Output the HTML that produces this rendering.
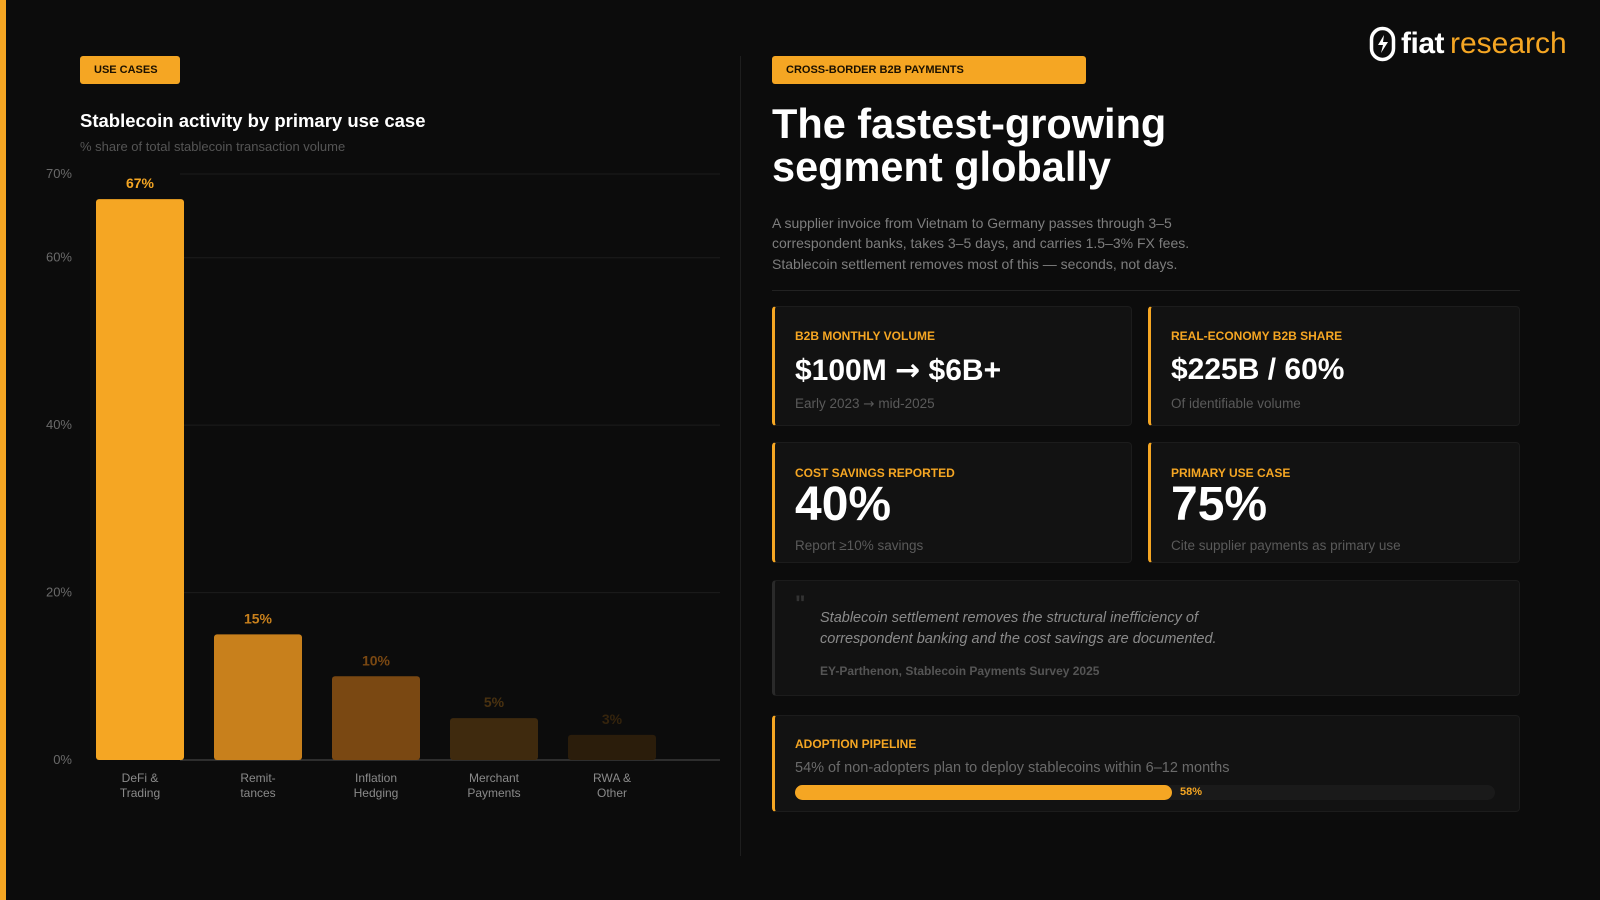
<!DOCTYPE html>
<html><head><meta charset="utf-8">
<style>
*{margin:0;padding:0;box-sizing:border-box}
body{width:1600px;height:900px;background:#0c0c0c;font-family:"Liberation Sans",sans-serif;color:#fff;position:relative;overflow:hidden}
.abs{position:absolute}
.tag{background:#f5a623;color:#1a1000;font-size:11px;font-weight:bold;border-radius:3px;padding:0 14px;line-height:28px;height:28px}
.card{position:absolute;background:#121212;border:1px solid #1c1c1c;border-left:3px solid #f5a623;border-radius:4px}
.lbl{position:absolute;left:20px;color:#f5a623;font-size:12px;font-weight:bold}
.val{position:absolute;left:20px;font-weight:bold;color:#fff}
.sub{position:absolute;left:20px;color:#5a5a5a;font-size:13.5px}
.arr{font-family:"DejaVu Sans",sans-serif}
</style></head><body>
<div class="abs" style="left:0;top:0;width:6px;height:900px;background:#f5a623"></div>

<div class="abs tag" style="left:80px;top:56px;width:100px">USE CASES</div>
<div class="abs" style="left:80px;top:110px;font-size:18.5px;font-weight:bold">Stablecoin activity by primary use case</div>
<div class="abs" style="left:80px;top:139px;font-size:13px;color:#555">% share of total stablecoin transaction volume</div>

<svg class="abs" style="left:0;top:0" width="740" height="840" id="chart"></svg>

<div class="abs" style="left:740px;top:56px;width:1px;height:800px;background:#1e1e1e"></div>

<div class="abs" style="left:1369px;top:26px;height:36px;display:flex;align-items:center">
<svg width="28" height="36" viewBox="0 0 28 36"><rect x="2.5" y="2.5" width="22" height="31" rx="11" fill="none" stroke="#fff" stroke-width="3.5"/><path d="M15 9 L9 19 H14 L12 27 L19 16 H14 Z" fill="#fff"/></svg>
<span style="font-size:30px;font-weight:bold;margin-left:4px;letter-spacing:-0.5px">fiat</span><span style="font-size:30px;color:#f5a623;margin-left:6px">research</span>
</div>

<div class="abs tag" style="left:772px;top:56px;width:314px">CROSS-BORDER B2B PAYMENTS</div>
<div class="abs" style="left:772px;top:102px;font-size:41.5px;font-weight:bold;line-height:43px">The fastest-growing<br>segment globally</div>
<div class="abs" style="left:772px;top:213px;font-size:14px;line-height:20.3px;color:#7e7e7e">A supplier invoice from Vietnam to Germany passes through 3–5<br>correspondent banks, takes 3–5 days, and carries 1.5–3% FX fees.<br>Stablecoin settlement removes most of this — seconds, not days.</div>
<div class="abs" style="left:772px;top:290px;width:748px;height:1px;background:#222"></div>

<div class="card" style="left:772px;top:306px;width:360px;height:120px">
<div class="lbl" style="top:22px">B2B MONTHLY VOLUME</div><div class="val" style="top:46px;font-size:30px">$100M <span class="arr">→</span> $6B+</div><div class="sub" style="top:89px">Early 2023 <span class="arr">→</span> mid-2025</div></div>
<div class="card" style="left:1148px;top:306px;width:372px;height:120px">
<div class="lbl" style="top:22px">REAL-ECONOMY B2B SHARE</div><div class="val" style="top:46px;font-size:30px">$225B / 60%</div><div class="sub" style="top:89px">Of identifiable volume</div></div>
<div class="card" style="left:772px;top:442px;width:360px;height:121px">
<div class="lbl" style="top:23px">COST SAVINGS REPORTED</div><div class="val" style="top:34px;font-size:48px">40%</div><div class="sub" style="top:95px">Report ≥10% savings</div></div>
<div class="card" style="left:1148px;top:442px;width:372px;height:121px">
<div class="lbl" style="top:23px">PRIMARY USE CASE</div><div class="val" style="top:34px;font-size:48px">75%</div><div class="sub" style="top:95px">Cite supplier payments as primary use</div></div>

<div class="card" style="left:772px;top:580px;width:748px;height:116px;border-left-color:#2a2a2a">
<div class="abs" style="left:20px;top:10px;font-size:22px;color:#333;font-weight:bold">"</div>
<div class="abs" style="left:45px;top:27px;font-size:14.5px;font-style:italic;color:#8a8a8a;line-height:20.5px">Stablecoin settlement removes the structural inefficiency of<br>correspondent banking and the cost savings are documented.</div>
<div class="abs" style="left:45px;top:83px;font-size:12px;font-weight:bold;color:#555">EY-Parthenon, Stablecoin Payments Survey 2025</div></div>

<div class="card" style="left:772px;top:715px;width:748px;height:97px">
<div class="lbl" style="top:21px">ADOPTION PIPELINE</div>
<div class="sub" style="top:44px;font-size:14.5px;color:#6a6a6a">54% of non-adopters plan to deploy stablecoins within 6–12 months</div>
<div class="abs" style="left:20px;top:69px;width:700px;height:15px;background:#1a1a1a;border-radius:8px"></div>
<div class="abs" style="left:20px;top:69px;width:377px;height:15px;background:#f5a623;border-radius:8px"></div>
<div class="abs" style="left:405px;top:70px;font-size:11px;font-weight:bold;color:#f5a623">58%</div></div>

<script>
const categories=[["DeFi &","Trading"],["Remit-","tances"],["Inflation","Hedging"],["Merchant","Payments"],["RWA &","Other"]];
const values=[67,15,10,5,3];
const tickValues=[0,20,40,60,70];
const barColors=["#f5a623","#c8801c","#7a4812","#3f2a0e","#2b1d0b"];
const labelColors=["#f5a623","#c8801c","#7a4812","#4a3210","#35240d"];
const NS="http://www.w3.org/2000/svg";
const svg=document.getElementById('chart');
const y0=760,yTop=174,xL=180,xR=720;
const y=v=>y0-(v/70)*(y0-yTop);
const x=i=>140+i*118;
function mk(t,a){const e=document.createElementNS(NS,t);for(const k in a)e.setAttribute(k,a[k]);svg.appendChild(e);return e;}
tickValues.forEach(t=>{
 const l=mk('line',{x1:xL,x2:xR,y1:y(t),y2:y(t),stroke:t===0?'#3a3a3a':'#1c1c1c','stroke-width':t===0?1.5:1});
 
 
 const tx=mk('text',{x:72,y:y(t)+4,'text-anchor':'end','font-size':13,fill:'#6a6a6a'});
 tx.textContent=t+'%';
 
 
});
values.forEach((v,i)=>{
 const b=mk('rect',{x:x(i)-44,y:y(v),width:88,height:y0-y(v),rx:3,fill:barColors[i]});
 
 
 const t=mk('text',{x:x(i),y:y(v)-11,'text-anchor':'middle','font-size':14,'font-weight':'bold',fill:labelColors[i]});
 t.textContent=v+'%';
 
 
 categories[i].forEach((s,j)=>{
  const c=mk('text',{x:x(i),y:782+j*15,'text-anchor':'middle','font-size':12,fill:'#8a8a8a'});
  c.textContent=s;
  
  
 });
});
</script>
</body></html>
